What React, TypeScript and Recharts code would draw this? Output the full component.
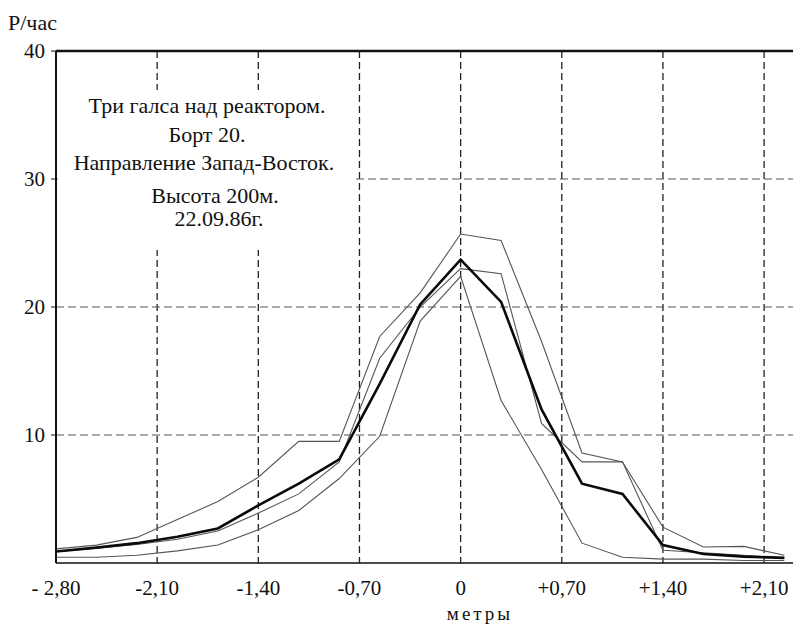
import { LineChart, Line, XAxis, YAxis, CartesianGrid, ReferenceLine } from "recharts";

// distance from reactor axis, step 0.28
const xValues = [
    -2.8, -2.52, -2.24, -1.96, -1.68, -1.4, -1.12, -0.84, -0.56, -0.28, 0,
    0.28, 0.56, 0.84, 1.12, 1.4, 1.68, 1.96, 2.24,
];

// averaged pass (thick line)
const averagePass = [
    0.9, 1.2, 1.55, 2.05, 2.7, 4.5, 6.2, 8.1, 14.0, 20.2, 23.7, 20.4, 12.0,
    6.2, 5.4, 1.4, 0.7, 0.5, 0.4,
];
const passOne = [
    1.1, 1.4, 2.0, 3.4, 4.8, 6.7, 9.5, 9.5, 17.7, 21.1, 25.7, 25.2, 17.3, 8.6,
    7.9, 2.8, 1.25, 1.3, 0.6,
];
const passTwo = [
    0.9, 1.15, 1.45, 1.85, 2.5, 3.9, 5.4, 7.9, 16.0, 20.0, 23.0, 22.6, 10.9,
    7.9, 7.9, 1.0, 0.8, 0.6, 0.4,
];
const passThree = [
    0.45, 0.45, 0.6, 0.95, 1.4, 2.6, 4.1, 6.6, 9.9, 18.9, 22.4, 12.7, 7.3,
    1.55, 0.45, 0.3, 0.3, 0.2, 0.2,
];

const xTicks = [-2.8, -2.1, -1.4, -0.7, 0, 0.7, 1.4, 2.1];
const xTickLabels = ["- 2,80", "-2,10", "-1,40", "-0,70", "0", "+0,70", "+1,40", "+2,10"];
const yTicks = [10, 20, 30, 40];

const noteLines = [
    { text: "Три галса над реактором.", cx: 207, cy: 106 },
    { text: "Борт 20.", cx: 207, cy: 135 },
    { text: "Направление Запад-Восток.", cx: 204, cy: 163 },
    { text: "Высота 200м.", cx: 215, cy: 196 },
    { text: "22.09.86г.", cx: 219, cy: 219 },
];

const serif = "Liberation Serif";

const App = () => {
    const data = xValues.map((x, i) => ({
        x,
        avg: averagePass[i],
        p1: passOne[i],
        p2: passTwo[i],
        p3: passThree[i],
    }));

    return (
        <div
            style={{
                position: "absolute",
                left: 0,
                top: 0,
                width: 797,
                height: 630,
                background: "#fff",
                fontFamily: serif,
            }}
        >
            <LineChart
                width={797}
                height={630}
                data={data}
                margin={{ top: 51, right: 4, bottom: 27, left: 0 }}
                style={{ fontFamily: serif }}
            >
                <CartesianGrid
                    horizontal={false}
                    stroke="#222"
                    strokeDasharray="7 4"
                    strokeWidth={1.3}
                    verticalValues={xTicks}
                />
                <CartesianGrid
                    vertical={false}
                    stroke="#555"
                    strokeDasharray="8 4"
                    strokeWidth={1.2}
                    horizontalValues={yTicks}
                />
                <XAxis
                    dataKey="x"
                    type="number"
                    domain={[-2.8, 2.3]}
                    allowDataOverflow
                    ticks={xTicks}
                    tickFormatter={(v: number) => xTickLabels[xTicks.indexOf(v)] ?? ""}
                    tickLine={false}
                    tickSize={0}
                    tickMargin={17}
                    height={40}
                    axisLine={{ stroke: "#111", strokeWidth: 1.6 }}
                    tick={{ fill: "#111", fontSize: 21, fontFamily: serif }}
                />
                <YAxis
                    type="number"
                    domain={[0, 40]}
                    ticks={yTicks}
                    width={56}
                    tickSize={5}
                    tickMargin={6}
                    tickLine={{ stroke: "#111" }}
                    axisLine={{ stroke: "#111", strokeWidth: 2 }}
                    tick={{ fill: "#111", fontSize: 21, fontFamily: serif }}
                />
                <ReferenceLine y={40} stroke="#111" strokeWidth={2.4} />
                <Line
                    type="linear"
                    dataKey="p1"
                    stroke="#555"
                    strokeWidth={1.1}
                    dot={false}
                    isAnimationActive={false}
                />
                <Line
                    type="linear"
                    dataKey="p2"
                    stroke="#555"
                    strokeWidth={1.1}
                    dot={false}
                    isAnimationActive={false}
                />
                <Line
                    type="linear"
                    dataKey="p3"
                    stroke="#555"
                    strokeWidth={1.1}
                    dot={false}
                    isAnimationActive={false}
                />
                <Line
                    type="linear"
                    dataKey="avg"
                    stroke="#0a0a0a"
                    strokeWidth={2.6}
                    dot={false}
                    isAnimationActive={false}
                />
            </LineChart>

            {/* white note box over the grid */}
            <div
                style={{
                    position: "absolute",
                    left: 58,
                    top: 90,
                    width: 295,
                    height: 160,
                    background: "#fff",
                }}
            />
            {noteLines.map((l) => (
                <div
                    key={l.text}
                    style={{
                        position: "absolute",
                        left: l.cx - 200,
                        top: l.cy - 14,
                        width: 400,
                        textAlign: "center",
                        fontSize: 22,
                        lineHeight: "28px",
                        color: "#111",
                    }}
                >
                    {l.text}
                </div>
            ))}

            <div
                style={{
                    position: "absolute",
                    left: 8,
                    top: 10,
                    fontSize: 22,
                    color: "#111",
                }}
            >
                Р/час
            </div>
            <div
                style={{
                    position: "absolute",
                    left: 380,
                    width: 200,
                    top: 603,
                    textAlign: "center",
                    fontSize: 19,
                    letterSpacing: 3,
                    color: "#111",
                }}
            >
                метры
            </div>
        </div>
    );
};

export default App;
